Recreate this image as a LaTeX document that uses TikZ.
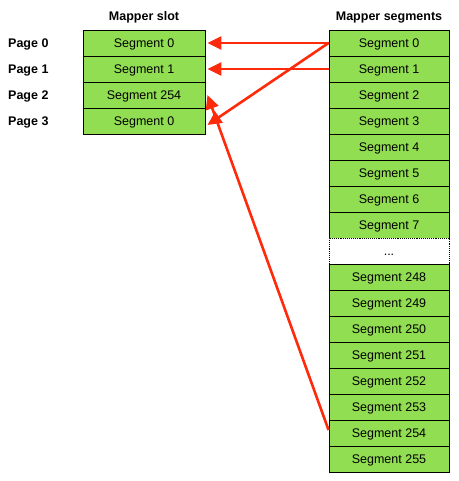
\documentclass[tikz,border=0pt]{standalone}
\usepackage{fontspec}
\setmainfont{Liberation Sans}
\usetikzlibrary{arrows.meta}
\definecolor{segfill}{HTML}{92DE52}
\definecolor{arrred}{HTML}{FF2A0A}
\begin{document}
\begin{tikzpicture}[x=1pt,y=-1pt,
  seg/.style={draw=black, fill=segfill, line width=0.9pt, minimum width=120pt, minimum height=26pt, inner sep=0pt, text height=9pt, text depth=0pt, font=\fontsize{12.5}{14}\selectfont},
  dotseg/.style={draw=black, densely dotted, fill=white, line width=0.9pt, minimum width=120pt, minimum height=26pt, inner sep=0pt, text height=9pt, text depth=0pt, font=\fontsize{12.5}{14}\selectfont},
  ttl/.style={font=\fontsize{12.5}{14}\selectfont\bfseries, inner sep=0pt, text height=9pt, text depth=0pt},
  pg/.style={font=\fontsize{12.5}{14}\selectfont\bfseries, anchor=west, inner sep=0pt, text height=9pt, text depth=0pt},
  link/.style={draw=arrred, line width=2.6pt, -{Triangle[length=14pt,width=13pt]}}
]
\useasboundingbox (0,0) rectangle (458,481);
% titles
\node[ttl] (t1) at (144,16) {Mapper slot};
\node[ttl] (t2) at (389,16) {Mapper segments};
% left column
\node[seg,minimum width=122pt] (s0) at (144,43) {Segment 0};
\node[seg,minimum width=122pt] (s1) at (144,69) {Segment 1};
\node[seg,minimum width=122pt] (s2) at (144,95) {Segment 254};
\node[seg,minimum width=122pt] (s3) at (144,121) {Segment 0};
\node[pg] (p0) at (8,43) {Page 0};
\node[pg] (p1) at (8,69) {Page 1};
\node[pg] (p2) at (8,95) {Page 2};
\node[pg] (p3) at (8,121) {Page 3};
% right column
\node[seg] (r0) at (389,43) {Segment 0};
\node[seg] (r1) at (389,69) {Segment 1};
\node[seg] (r2) at (389,95) {Segment 2};
\node[seg] (r3) at (389,121) {Segment 3};
\node[seg] (r4) at (389,147) {Segment 4};
\node[seg] (r5) at (389,173) {Segment 5};
\node[seg] (r6) at (389,199) {Segment 6};
\node[seg] (r7) at (389,225) {Segment 7};
\node[dotseg] (rd) at (389,251) {...};
\node[seg] (r248) at (389,277) {Segment 248};
\node[seg] (r249) at (389,303) {Segment 249};
\node[seg] (r250) at (389,329) {Segment 250};
\node[seg] (r251) at (389,355) {Segment 251};
\node[seg] (r252) at (389,381) {Segment 252};
\node[seg] (r253) at (389,407) {Segment 253};
\node[seg] (r254) at (389,433) {Segment 254};
\node[seg] (r255) at (389,459) {Segment 255};
% arrows
\coordinate (e0) at ([xshift=2pt]s0.east);
\coordinate (e1) at ([xshift=2pt]s1.east);
\coordinate (e2) at ([xshift=2pt,yshift=0pt]s2.east);
\coordinate (e3) at ([xshift=2pt,yshift=-4pt]s3.east);
\draw[link] (r0.west) -- (e0);
\draw[link] (r1.west) -- (e1);
\draw[link] (r0.west) -- (e3);
\draw[link] ([yshift=3pt]r254.west) -- (e2);
\end{tikzpicture}
\end{document}
